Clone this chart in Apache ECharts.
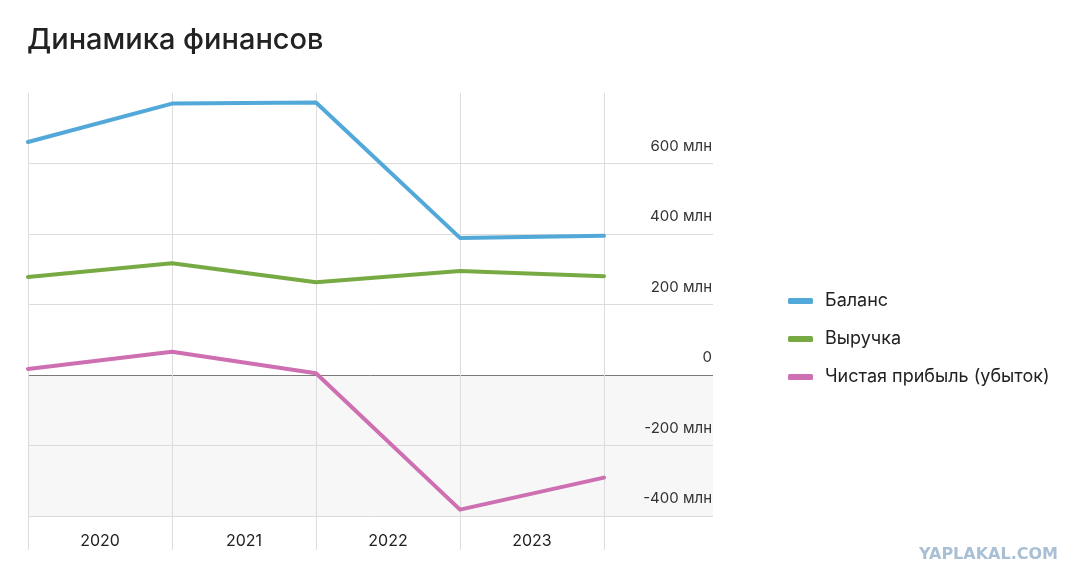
<!DOCTYPE html>
<html>
<head>
<meta charset="utf-8">
<script src="https://cdn.jsdelivr.net/npm/echarts@6/dist/echarts.min.js"></script>
<style>
  html, body { margin: 0; padding: 0; background: #fff; }
  #chart { width: 1084px; height: 586px; }
</style>
</head>
<body>
<div id="chart"></div>
<script>
const years = ['2020', '2021', '2022', '2023']
const seriesNames = ['Баланс', 'Выручка', 'Чистая прибыль (убыток)']
// values at year boundaries, millions
const balance = [661, 770, 773, 389, 395]
const revenue = [278, 317, 263, 295, 280]
const netProfit = [17, 66, 5, -382, -291]
const yTicks = [-400, -200, 0, 200, 400, 600, 800]

const colors = ['#52a9d9', '#78aa44', '#cd6fb1']
const fontFamily = 'Inter, "Noto Sans", sans-serif'

const toPoints = (values) => values.map((value, index) => [index, value])

const chart = echarts.init(document.getElementById('chart'))

chart.setOption({
  backgroundColor: '#fff',
  animation: false,
  textStyle: { fontFamily },
  title: {
    text: 'Динамика финансов',
    left: 22,
    top: 21,
    textStyle: { fontSize: 29, fontWeight: 500, color: '#222', fontFamily }
  },
  legend: {
    orient: 'vertical',
    left: 783,
    top: 287,
    itemWidth: 25,
    itemHeight: 6,
    itemGap: 20,
    icon: 'roundRect',
    data: seriesNames,
    textStyle: { fontSize: 18, color: '#222', padding: [0, 0, 0, 7] }
  },
  grid: [
    { left: 28, right: 371, top: 93, bottom: 70 },
    { left: 28, width: 576, top: 93, bottom: 70 }
  ],
  xAxis: [
    { type: 'value', gridIndex: 0, min: 0, max: 1, show: false },
    {
      type: 'value',
      gridIndex: 1,
      position: 'top',
      min: 0,
      max: 4,
      interval: 1,
      axisLine: { show: false },
      axisTick: { show: false },
      axisLabel: { show: false },
      splitLine: { show: true, lineStyle: { color: '#dcdcdc', width: 1 } }
    },
    {
      type: 'category',
      gridIndex: 1,
      position: 'bottom',
      data: years,
      boundaryGap: true,
      axisLine: { show: false },
      axisTick: { show: true, length: 34, lineStyle: { color: '#dcdcdc' } },
      axisLabel: { fontSize: 16, color: '#222', margin: 17 },
      splitLine: { show: false }
    }
  ],
  yAxis: [
    {
      type: 'value',
      gridIndex: 0,
      position: 'right',
      min: yTicks[0],
      max: yTicks[yTicks.length - 1],
      interval: 200,
      axisLine: { show: false },
      axisTick: { show: false },
      axisLabel: {
        inside: true,
        margin: 1,
        fontSize: 15,
        color: '#333',
        verticalAlign: 'bottom',
        padding: [0, 0, 10, 0],
        formatter: (value) => {
          if (value === yTicks[yTicks.length - 1]) return ''
          return value === 0 ? '0' : value + ' млн'
        }
      },
      splitLine: {
        show: true,
        lineStyle: {
          color: ['#dcdcdc', '#dcdcdc', '#7a7a7a', '#dcdcdc', '#dcdcdc', '#dcdcdc', 'rgba(0,0,0,0)'],
          width: 1
        }
      },
      splitArea: {
        show: true,
        areaStyle: {
          color: ['#f7f7f7', '#f7f7f7', 'rgba(0,0,0,0)', 'rgba(0,0,0,0)', 'rgba(0,0,0,0)', 'rgba(0,0,0,0)']
        }
      }
    },
    {
      type: 'value',
      gridIndex: 1,
      min: yTicks[0],
      max: yTicks[yTicks.length - 1],
      interval: 200,
      show: false
    }
  ],
  series: [balance, revenue, netProfit].map((values, index) => ({
    name: seriesNames[index],
    type: 'line',
    xAxisIndex: 1,
    yAxisIndex: 1,
    data: toPoints(values),
    symbol: 'none',
    color: colors[index],
    lineStyle: { width: 4, color: colors[index], cap: 'round', join: 'round' },
    z: 3
  })),
  graphic: [
    {
      type: 'text',
      right: 26,
      top: 547,
      style: {
        text: 'YAPLAKAL.COM',
        fontSize: 16,
        fontWeight: 900,
        fontFamily: '"DejaVu Sans", sans-serif',
        fill: '#a9bfd4'
      }
    }
  ]
})
</script>
</body>
</html>
